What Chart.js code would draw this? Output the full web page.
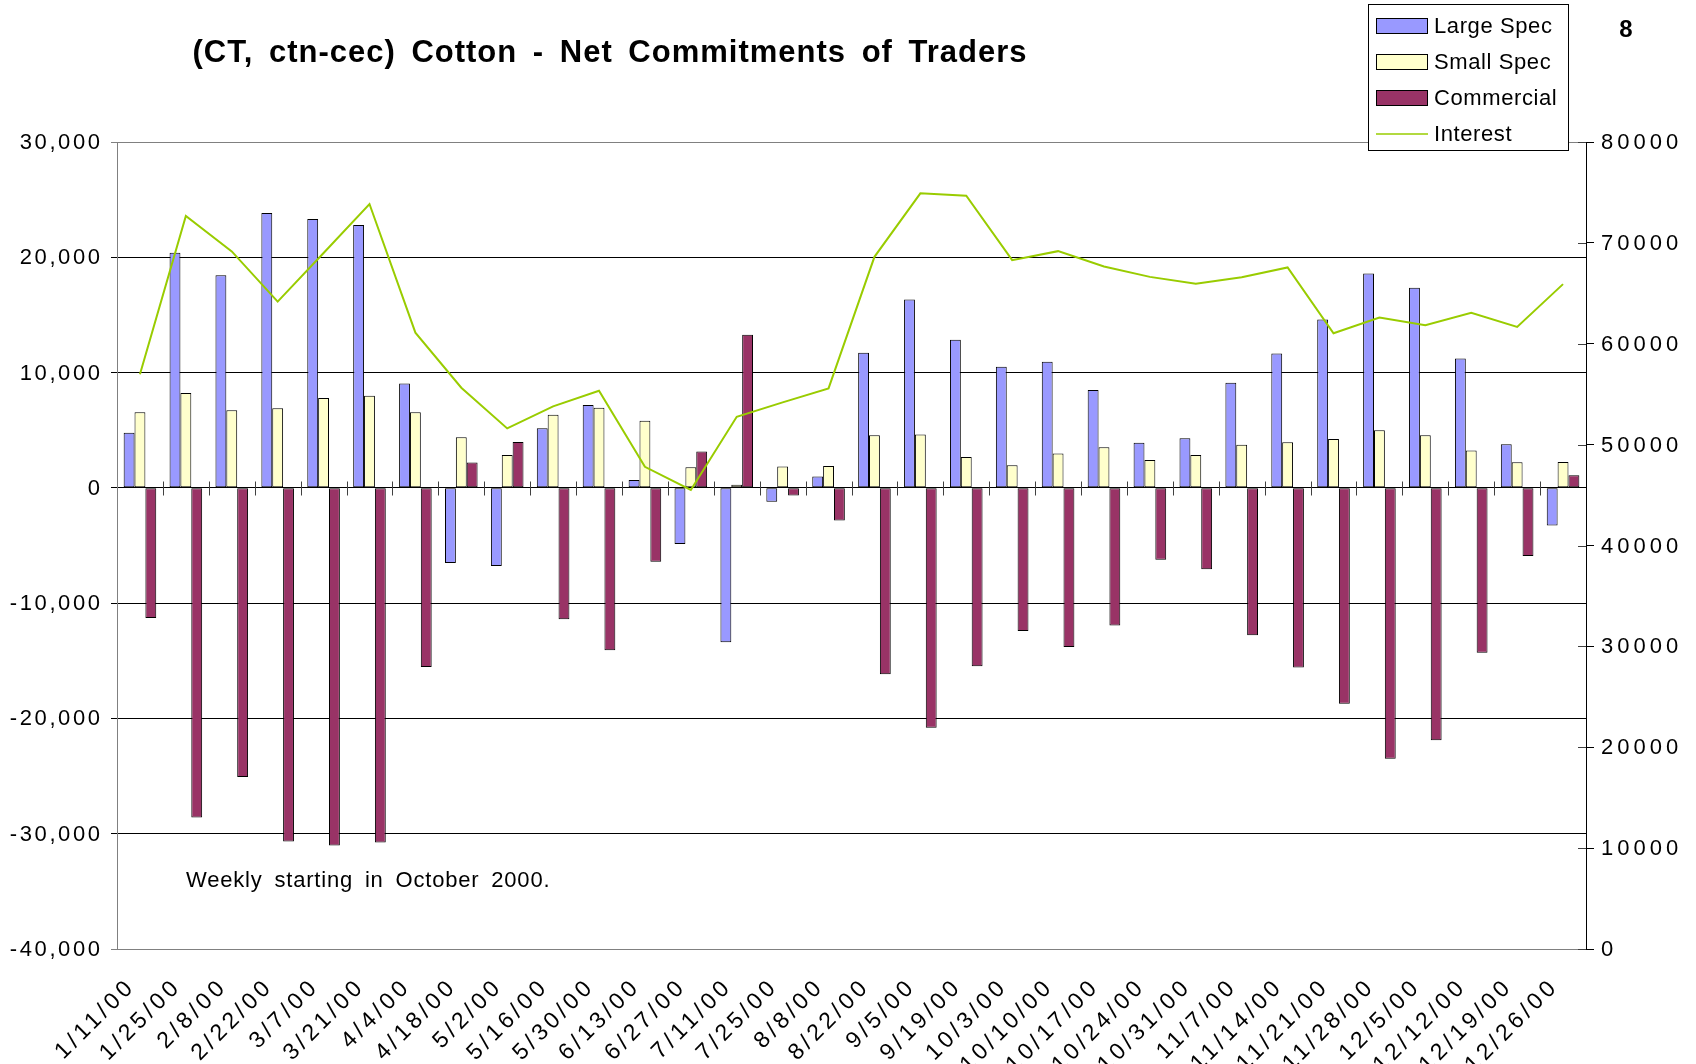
<!DOCTYPE html>
<html>
<head>
<meta charset="utf-8">
<title>Cotton - Net Commitments of Traders</title>
<script src="https://cdn.jsdelivr.net/npm/chart.js@4/dist/chart.umd.min.js"></script>
<style>
    html, body { margin: 0; padding: 0; background: #fff; }
    #wrap { width: 1696px; height: 1064px; }
</style>
</head>
<body>
<div id="wrap"><canvas id="cotChart" width="1696" height="1064"></canvas></div>
<script>
// (CT, ctn-cec) Cotton - net commitments of traders, weekly, 2000
// Bars on the left axis (contracts), open interest line on the right axis.

const WEEKS = [
    '1/11/00', '1/25/00', '2/8/00', '2/22/00', '3/7/00', '3/21/00', '4/4/00', '4/18/00',
    '5/2/00', '5/16/00', '5/30/00', '6/13/00', '6/27/00', '7/11/00', '7/25/00', '8/8/00',
    '8/22/00', '9/5/00', '9/19/00', '10/3/00', '10/10/00', '10/17/00', '10/24/00', '10/31/00',
    '11/7/00', '11/14/00', '11/21/00', '11/28/00', '12/5/00', '12/12/00', '12/19/00', '12/26/00'
];

const LARGE_SPEC = [
    4790, 20400, 18440, 23840, 23320, 22800, 9060, -6520,
    -6780, 5170, 7190, 690, -4880, -13390, -1210, 980,
    11720, 16330, 12840, 10500, 10940, 8480, 3920, 4300,
    9120, 11660, 14600, 18590, 17350, 11230, 3780, -3260
];

const SMALL_SPEC = [
    6550, 8225, 6725, 6900, 7790, 7990, 6550, 4390,
    2860, 6350, 6950, 5830, 1790, 260, 1850, 1900,
    4560, 4620, 2680, 1960, 2970, 3520, 2420, 2860,
    3750, 3950, 4240, 4990, 4560, 3230, 2220, 2250
];

const COMMERCIAL = [
    -11280, -28600, -25080, -30680, -31020, -30770, -15530, 2190,
    3980, -11400, -14080, -6410, 3150, 13280, -660, -2830,
    -16160, -20810, -15470, -12410, -13800, -11950, -6230, -7070,
    -12790, -15580, -18730, -23490, -21900, -14310, -5920, 1100
];

const INTEREST = [
    56970, 72660, 69150, 64180, 69000, 73850, 61100, 55640,
    51610, 53790, 55340, 47800, 45510, 52760, 54190, 55580,
    68620, 74910, 74680, 68290, 69180, 67660, 66630, 65940,
    66600, 67560, 61040, 62600, 61830, 63060, 61670, 65910
];

const LEFT_TICKS = { min: -40000, max: 30000, step: 10000 };
const RIGHT_TICKS = { min: 0, max: 80000, step: 10000 };

const TITLE = '(CT, ctn-cec) Cotton - Net Commitments of Traders';
const NOTE = 'Weekly starting in October 2000.';
const PAGE_NO = '8';

const FONT = '"Liberation Sans", Arial, sans-serif';

const SERIES = [
    { label: 'Large Spec', data: LARGE_SPEC, color: '#9999FF' },
    { label: 'Small Spec', data: SMALL_SPEC, color: '#FFFFCC' },
    { label: 'Commercial', data: COMMERCIAL, color: '#993366' }
];
const LINE_COLOR = '#99CC00';

// Excel spaces its glyphs out more than the canvas does
function spaced(ctx, letter, word) {
    ctx.letterSpacing = letter + 'px';
    ctx.wordSpacing = (word || 0) + 'px';
}

const decor = {
    id: 'decor',
    beforeDraw(chart) {
        // only the x labels are left for Chart.js to write
        spaced(chart.ctx, 4);
    },
    afterDraw(chart) {
        const { ctx, chartArea: a } = chart;
        const ys = chart.scales.y, y2 = chart.scales.y2;
        ctx.save();

        // category ticks across the zero line
        const y0 = Math.round(ys.getPixelForValue(0)) + 0.5;
        const w = (a.right - a.left) / WEEKS.length;
        ctx.strokeStyle = '#404040';
        ctx.lineWidth = 1;
        ctx.beginPath();
        for (let i = 1; i < WEEKS.length; i++) {
            const x = Math.round(a.left + i * w) + 0.5;
            ctx.moveTo(x, y0 - 7);
            ctx.lineTo(x, y0 + 7);
        }
        // inner half of the right axis ticks
        for (let v = RIGHT_TICKS.min; v <= RIGHT_TICKS.max; v += RIGHT_TICKS.step) {
            const y = Math.round(y2.getPixelForValue(v)) + 0.5;
            ctx.moveTo(a.right - 8, y);
            ctx.lineTo(a.right, y);
        }
        ctx.stroke();

        ctx.fillStyle = '#000';
        ctx.textBaseline = 'middle';

        // axis labels
        ctx.font = '22px ' + FONT;
        spaced(ctx, 2.6);
        ctx.textAlign = 'right';
        ys.ticks.forEach(t => {
            ctx.fillText(t.value.toLocaleString('en-US'), 100 + 2.6, ys.getPixelForValue(t.value) + 1);
        });
        spaced(ctx, 4);
        ctx.textAlign = 'left';
        y2.ticks.forEach(t => {
            ctx.fillText(String(t.value), a.right + 15, y2.getPixelForValue(t.value) + 1);
        });

        // title + page number
        ctx.textAlign = 'center';
        ctx.font = 'bold 31px ' + FONT;
        spaced(ctx, 1, 6);
        ctx.fillText(TITLE, 610, 53);
        ctx.font = 'bold 24px ' + FONT;
        spaced(ctx, 0);
        ctx.fillText(PAGE_NO, 1626, 30);

        // note inside the plot
        ctx.textAlign = 'left';
        ctx.font = '22px ' + FONT;
        spaced(ctx, 0.8, 5);
        ctx.fillText(NOTE, 186, 881);

        // legend
        const lx = 1368, ly = 4, lw = 200, lh = 146;
        ctx.fillStyle = '#fff';
        ctx.fillRect(lx, ly, lw, lh);
        ctx.strokeStyle = '#000';
        ctx.strokeRect(lx + 0.5, ly + 0.5, lw, lh);
        const items = SERIES.map(s => ({ label: s.label, color: s.color, bar: true }))
            .concat([{ label: 'Interest', color: LINE_COLOR, bar: false }]);
        ctx.font = '22px ' + FONT;
        spaced(ctx, 0.6);
        items.forEach((it, i) => {
            const cy = 26 + i * 36;
            if (it.bar) {
                ctx.fillStyle = it.color;
                ctx.fillRect(1376, cy - 8, 52, 16);
                ctx.strokeStyle = '#000';
                ctx.strokeRect(1376.5, cy - 7.5, 51, 15);
            } else {
                ctx.strokeStyle = it.color;
                ctx.lineWidth = 1.5;
                ctx.beginPath();
                ctx.moveTo(1376, cy);
                ctx.lineTo(1428, cy);
                ctx.stroke();
                ctx.lineWidth = 1;
            }
            ctx.fillStyle = '#000';
            ctx.fillText(it.label, 1434, cy + 1);
        });
        ctx.restore();
    }
};

new Chart(document.getElementById('cotChart'), {
    type: 'bar',
    data: {
        labels: WEEKS,
        datasets: [
            {
                type: 'line',
                label: 'Interest',
                data: INTEREST,
                yAxisID: 'y2',
                borderColor: LINE_COLOR,
                borderWidth: 2,
                pointRadius: 0,
                tension: 0,
                order: 0
            }
        ].concat(SERIES.map(s => ({
            label: s.label,
            data: s.data,
            yAxisID: 'y',
            backgroundColor: s.color,
            borderColor: '#000',
            borderWidth: 1,
            borderSkipped: false,
            categoryPercentage: 0.71,
            barPercentage: 1,
            order: 1
        })))
    },
    options: {
        responsive: false,
        animation: false,
        devicePixelRatio: 1,
        layout: { padding: { top: 142, left: 0, right: 0, bottom: 0 } },
        plugins: {
            legend: { display: false },
            title: { display: false },
            tooltip: { enabled: false }
        },
        scales: {
            x: {
                grid: { display: false },
                border: { display: false },
                ticks: {
                    autoSkip: false,
                    maxRotation: 45,
                    minRotation: 45,
                    padding: 16,
                    labelOffset: -8,
                    color: '#000',
                    font: { family: FONT, size: 23 }
                },
                afterFit(s) { s.height = 115; }
            },
            y: {
                position: 'left',
                min: LEFT_TICKS.min,
                max: LEFT_TICKS.max,
                ticks: { stepSize: LEFT_TICKS.step, display: false },
                grid: {
                    color: c => (c.tick && (c.tick.value === LEFT_TICKS.max || c.tick.value === LEFT_TICKS.min)) ? '#808080' : '#000',
                    lineWidth: 1,
                    tickLength: 6
                },
                border: { display: true, color: '#808080', width: 1 },
                afterFit(s) { s.width = 117; }
            },
            y2: {
                position: 'right',
                min: RIGHT_TICKS.min,
                max: RIGHT_TICKS.max,
                ticks: { stepSize: RIGHT_TICKS.step, display: false },
                grid: { drawOnChartArea: false, color: '#000', tickLength: 8 },
                border: { display: true, color: '#000', width: 1 },
                afterFit(s) { s.width = 110; }
            }
        }
    },
    plugins: [decor]
});
</script>
</body>
</html>
